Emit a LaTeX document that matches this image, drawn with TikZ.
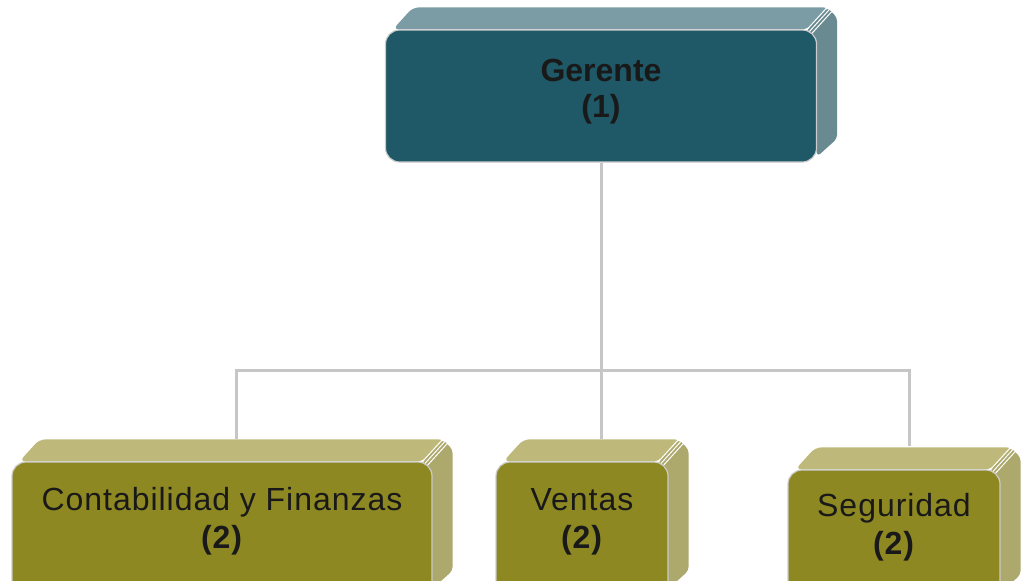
\documentclass[tikz,border=0pt]{standalone}
\usepackage{fontspec}
\setmainfont{Liberation Sans}
\usetikzlibrary{positioning, calc, backgrounds}
\definecolor{tealfront}{HTML}{1F5866}
\definecolor{tealtop}{HTML}{7B9CA5}
\definecolor{tealside}{HTML}{6A8A92}
\definecolor{olivefront}{HTML}{8E8822}
\definecolor{olivetop}{HTML}{BEB97A}
\definecolor{oliveside}{HTML}{ADA86B}
\definecolor{linkgray}{HTML}{C6C6C6}
\tikzstyle{unit} = [rectangle, rounded corners=7pt, align=center, font=\fontsize{16}{18}\selectfont, text=black!90, draw=white!80!black, line width=0.6pt, inner sep=0pt]
\tikzstyle{head} = [unit, fill=tealfront, minimum width=215.5pt, minimum height=66pt, text depth=8pt]
\tikzstyle{dept} = [unit, fill=olivefront, minimum height=66pt, text depth=10pt, font=\fontsize{16}{19}\selectfont\addfontfeature{LetterSpace=3}]
\tikzstyle{link} = [linkgray, line width=1.5pt]

% 3D back of a box: node, top colour, side colour
\newcommand{\boxback}[3]{%
  \fill[#3, rounded corners=2pt] ([xshift=-5pt]#1.north east) -- ([shift={(5pt,11pt)}]#1.north east)
    -- ([shift={(10pt,6pt)}]#1.north east) -- ([shift={(10pt,12pt)}]#1.south east)
    -- ([shift={(0pt,3pt)}]#1.south east) -- cycle;
  \fill[#2, rounded corners=3pt] ([xshift=4pt]#1.north west) -- ++(10pt,11pt)
    -- ([shift={(6pt,11pt)}]#1.north east) -- ([xshift=-5pt]#1.north east) -- cycle;
  \foreach \k in {0,1.1,2.2}
    \draw[white, line width=0.5pt] ([shift={(-5pt+\k pt,-\k pt)}]#1.north east) -- ++(10pt,11pt);
}

\begin{document}
\begin{tikzpicture}[x=0.5pt, y=-0.5pt]
        \useasboundingbox (0,0) rectangle (1023,580);
        \clip (0,0) rectangle (1023,580);

        % Nodes
        \node (gerente) [head] at (601,96) {\textbf{Gerente}\\\textbf{(1)}};

        \node (conta) [dept, minimum width=210pt] at (222,528) {Contabilidad y Finanzas\\\textbf{(2)}};
        \node (ventas) [dept, minimum width=86pt] at (582,528) {Ventas\\\textbf{(2)}};
        \node (seg) [dept, minimum width=106pt, minimum height=64pt] at (894,534) {Seguridad\\\textbf{(2)}};

        \begin{scope}[on background layer]
            \boxback{gerente}{tealtop}{tealside}
            \boxback{conta}{olivetop}{oliveside}
            \boxback{ventas}{olivetop}{oliveside}
            \boxback{seg}{olivetop}{oliveside}
        \end{scope}

        % Connectors
        \coordinate (bus) at ($(gerente.south)+(0,208)$);
        \draw [link] (gerente.south) -- (bus);
        \draw [link] (bus) -| ([shift={(7pt,11pt)}]conta.north);
        \draw [link] (bus) -| ([shift={(9.5pt,11pt)}]ventas.north);
        \draw [link] (bus) -| ([shift={(7.5pt,11.5pt)}]seg.north);

    \end{tikzpicture}
\end{document}
